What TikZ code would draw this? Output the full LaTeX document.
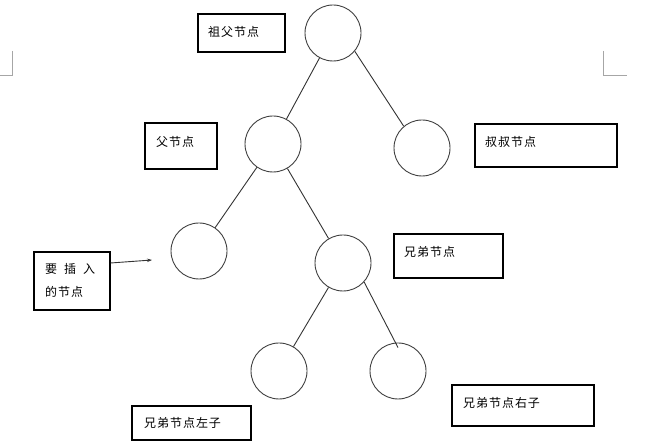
\documentclass[tikz,border=0pt]{standalone}
\usepackage{fontspec}
\newfontfamily\cjk[LetterSpace=8]{Noto Sans CJK SC}
\usetikzlibrary{arrows.meta}
\begin{document}
\begin{tikzpicture}[x=1pt,y=-1pt,
  treenode/.style={circle,draw=black!75,line width=0.9pt,minimum size=56pt,inner sep=0pt},
  labelbox/.style={rectangle,draw=black,line width=1.1pt,inner sep=0pt},
  labeltext/.style={anchor=west,inner sep=0pt,font=\cjk\fontsize{12}{23}\selectfont,text=black},
  treeedge/.style={draw=black!80,line width=0.9pt},
  cropmark/.style={draw=black!35,line width=0.8pt}]
\useasboundingbox (0,0) rectangle (646,443);
\fill[white] (0,0) rectangle (646,443);
% crop marks
\coordinate (cl1) at (12,51); \coordinate (cl2) at (12,75); \coordinate (cl3) at (0,75);
\coordinate (cr1) at (603,51); \coordinate (cr2) at (603,75); \coordinate (cr3) at (627,75);
\draw[cropmark] (cl1) -- (cl2) -- (cl3);
\draw[cropmark] (cr1) -- (cr2) -- (cr3);
% tree nodes
\node[treenode] (G) at (333,33) {};
\node[treenode] (P) at (273,144) {};
\node[treenode] (U) at (422,148) {};
\node[treenode] (N) at (199,251) {};
\node[treenode] (S) at (343,263) {};
\node[treenode] (SL) at (279,371) {};
\node[treenode] (SR) at (398,371) {};
% edges
\draw[treeedge] (G) -- (P);
\draw[treeedge] (G.-40) -- (U.130);
\draw[treeedge] (P) -- (N);
\draw[treeedge] (P) -- (S);
\draw[treeedge] (S) -- (SL);
\draw[treeedge] (S.-42) -- ([yshift=-5pt]SR.north);
% label boxes
\node[labelbox,minimum width=87pt,minimum height=38pt] (Gbox) at (241.5,33) {};
\node[labeltext] (Gtext) at (208,32) {祖父节点};
\node[labelbox,minimum width=72pt,minimum height=46pt] (Pbox) at (181,146) {};
\node[labeltext] (Ptext) at (156,142) {父节点};
\node[labelbox,minimum width=142pt,minimum height=43pt] (Ubox) at (546,145.5) {};
\node[labeltext] (Utext) at (485,142) {叔叔节点};
\node[labelbox,minimum width=109pt,minimum height=44pt] (Sbox) at (448.5,256) {};
\node[labeltext] (Stext) at (404,252) {兄弟节点};
\node[labelbox,minimum width=76pt,minimum height=58pt] (Ibox) at (72,281) {};
\node[labeltext] (Itext1) at (45,269) {要\hspace{7pt}插\hspace{7pt}入};
\node[labeltext] (Itext2) at (45,292) {的节点};
\node[labelbox,minimum width=119pt,minimum height=34pt] (SLbox) at (191.5,423) {};
\node[labeltext] (SLtext) at (144,423) {兄弟节点左子};
\node[labelbox,minimum width=142pt,minimum height=41pt] (SRbox) at (523,405.5) {};
\node[labeltext] (SRtext) at (463,403) {兄弟节点右子};
% arrow to inserted node
\coordinate (Itip) at (152,260);
\draw[treeedge,-{Stealth[length=5pt,width=3.5pt]}] ([yshift=18pt]Ibox.east) -- (Itip);
\end{tikzpicture}
\end{document}
